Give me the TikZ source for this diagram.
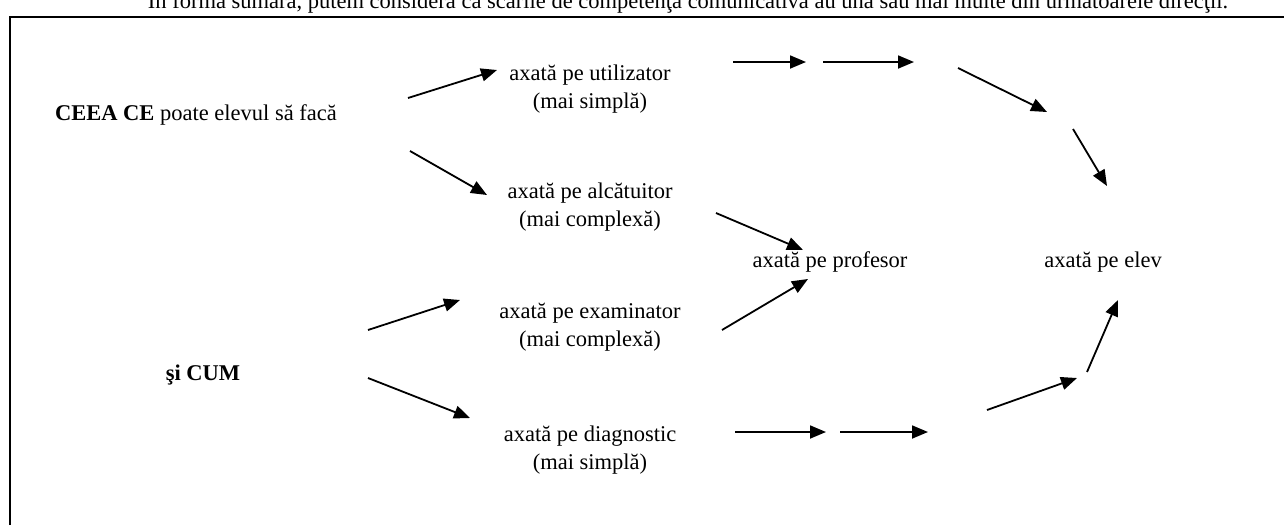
\documentclass[tikz,border=0pt]{standalone}
\usepackage{fontspec}
\setmainfont{Liberation Serif}
\usetikzlibrary{arrows.meta}
\tikzset{
  lbl/.style={inner sep=0pt, align=center, font=\fontsize{22.5}{28}\selectfont},
  con/.style={line width=1.8pt, -{Triangle[length=16pt,width=13pt]}},
  frame/.style={line width=2.2pt}
}
\begin{document}
\begin{tikzpicture}[x=1pt,y=-1pt]
\useasboundingbox (0,0) rectangle (1284,525);
\clip (0,0) rectangle (1284,525);
% heading (partly cut off at the top)
\node[lbl, anchor=base] (head) at (688,8) {În forma sumară, putem considera că scările de competenţa comunicativă au una sau mai multe din următoarele direcţii.};
% frame
\draw[frame] (10,525) -- (10,17) -- (1284,17);
% text nodes
\node[lbl] (ce) at (196,115) {\textbf{CEEA CE} poate elevul să facă};
\node[lbl] (cum) at (203,375) {\textbf{şi CUM}};
\node[lbl] (util) at (590,89) {axată pe utilizator\\(mai simplă)};
\node[lbl] (alc) at (590,207) {axată pe alcătuitor\\(mai complexă)};
\node[lbl] (exa) at (590,327) {axată pe examinator\\(mai complexă)};
\node[lbl] (diag) at (590,450) {axată pe diagnostic\\(mai simplă)};
\node[lbl] (prof) at (830,262) {axată pe profesor};
\node[lbl] (elev) at (1103,262) {axată pe elev};
% connector end points
\coordinate (a1s) at (408,98);  \coordinate (a1e) at (497,70);
\coordinate (a2s) at (410,151); \coordinate (a2e) at (487,195);
\coordinate (a3s) at (733,62);  \coordinate (a3e) at (806,62);
\coordinate (a4s) at (823,62);  \coordinate (a4e) at (914,62);
\coordinate (a5s) at (958,68);  \coordinate (a5e) at (1047,112);
\coordinate (a6s) at (1073,129); \coordinate (a6e) at (1107,186);
\coordinate (a7s) at (716,213); \coordinate (a7e) at (803,250);
\coordinate (a8s) at (722,330); \coordinate (a8e) at (808,279);
\coordinate (a9s) at (368,330); \coordinate (a9e) at (460,300);
\coordinate (a10s) at (368,378); \coordinate (a10e) at (470,418);
\coordinate (a11s) at (735,432); \coordinate (a11e) at (826,432);
\coordinate (a12s) at (840,432); \coordinate (a12e) at (928,432);
\coordinate (a13s) at (987,410); \coordinate (a13e) at (1077,378);
\coordinate (a14s) at (1087,372); \coordinate (a14e) at (1118,300);
% connectors
\draw[con] (a1s) -- (a1e);
\draw[con] (a2s) -- (a2e);
\draw[con] (a3s) -- (a3e);
\draw[con] (a4s) -- (a4e);
\draw[con] (a5s) -- (a5e);
\draw[con] (a6s) -- (a6e);
\draw[con] (a7s) -- (a7e);
\draw[con] (a8s) -- (a8e);
\draw[con] (a9s) -- (a9e);
\draw[con] (a10s) -- (a10e);
\draw[con] (a11s) -- (a11e);
\draw[con] (a12s) -- (a12e);
\draw[con] (a13s) -- (a13e);
\draw[con] (a14s) -- (a14e);
\end{tikzpicture}
\end{document}
